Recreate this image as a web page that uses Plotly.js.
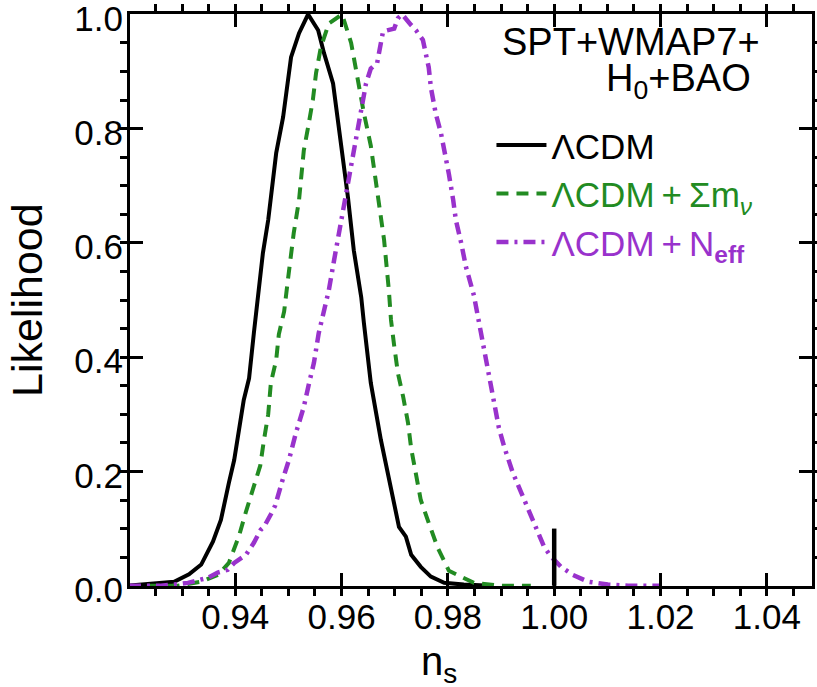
<!DOCTYPE html>
<html>
<head>
<meta charset="utf-8">
<script src="https://cdn.plot.ly/plotly-3.0.1.min.js"></script>
<style>
  html, body { margin: 0; padding: 0; background: #fff; }
  #chart { width: 817px; height: 687px; }
</style>
</head>
<body>
<div id="chart"></div>
<script>
// ---- Data ----
const nsLCDM = [0.9200,0.9247,0.9285,0.9313,0.9336,0.9358,0.9373,0.9388,0.9398,0.9416,
                0.9426,0.9435,0.9445,0.9452,0.9462,0.9477,0.9490,0.9505,0.9520,0.9537,
                0.9556,0.9567,0.9584,0.9590,0.9599,0.9612,0.9623,0.9637,0.9642,0.9655,
                0.9674,0.9693,0.9708,0.9721,0.9731,0.9749,0.9768,0.9793,0.9830,0.9881];
const likeLCDM = [0.000,0.003,0.007,0.020,0.037,0.077,0.115,0.180,0.220,0.325,
                  0.363,0.442,0.517,0.582,0.640,0.757,0.820,0.925,0.967,1.000,
                  0.972,0.932,0.879,0.837,0.762,0.680,0.587,0.505,0.460,0.355,
                  0.255,0.168,0.103,0.086,0.054,0.033,0.016,0.005,0.002,0.000];

const nsMnu = [0.9235,0.9292,0.9336,0.9368,0.9388,0.9407,0.9420,0.9435,0.9447,0.9454,
               0.9462,0.9467,0.9477,0.9482,0.9492,0.9499,0.9510,0.9520,0.9529,0.9537,
               0.9546,0.9552,0.9561,0.9576,0.9601,0.9618,0.9633,0.9642,0.9655,0.9661,
               0.9674,0.9680,0.9689,0.9693,0.9699,0.9706,0.9716,0.9725,0.9731,0.9740,
               0.9749,0.9764,0.9781,0.9802,0.9849,0.9900,0.9956];
const likeMnu = [0.000,0.000,0.007,0.019,0.040,0.087,0.129,0.175,0.210,0.255,
                 0.300,0.355,0.395,0.440,0.480,0.535,0.617,0.675,0.762,0.802,
                 0.850,0.897,0.942,0.984,1.000,0.950,0.872,0.827,0.770,0.730,
                 0.652,0.605,0.517,0.465,0.420,0.372,0.330,0.285,0.240,0.198,
                 0.150,0.110,0.066,0.026,0.005,0.000,0.000];

const nsNeff = [0.9200,0.9260,0.9285,0.9311,0.9349,0.9367,0.9386,0.9398,0.9420,0.9435,
                0.9448,0.9454,0.9467,0.9475,0.9488,0.9501,0.9514,0.9529,0.9539,0.9548,
                0.9557,0.9567,0.9576,0.9586,0.9593,0.9599,0.9605,0.9612,0.9618,0.9627,
                0.9633,0.9640,0.9646,0.9655,0.9667,0.9678,0.9699,0.9706,0.9714,0.9731,
                0.9740,0.9753,0.9764,0.9768,0.9777,0.9787,0.9793,0.9802,0.9810,0.9815,
                0.9825,0.9834,0.9849,0.9859,0.9866,0.9877,0.9887,0.9896,0.9906,0.9922,
                0.9938,0.9953,0.9966,0.9981,0.9994,1.0013,1.0035,1.0064,1.0101,1.0139,
                1.0201];
const likeNeff = [0.000,0.000,0.002,0.005,0.014,0.023,0.028,0.040,0.054,0.075,
                  0.098,0.103,0.125,0.140,0.182,0.220,0.267,0.313,0.355,0.390,
                  0.442,0.483,0.517,0.570,0.605,0.640,0.670,0.710,0.733,0.780,
                  0.810,0.845,0.879,0.905,0.915,0.970,0.975,0.993,1.000,0.981,
                  0.972,0.955,0.907,0.872,0.827,0.792,0.765,0.720,0.675,0.640,
                  0.600,0.558,0.508,0.460,0.425,0.375,0.322,0.276,0.243,0.198,
                  0.163,0.128,0.098,0.068,0.051,0.033,0.019,0.007,0.002,0.000,
                  0.000];

const hzMarkX = [1.00, 1.00];
const hzMarkY = [0.00, 0.10];

const xTickVals = [0.94, 0.96, 0.98, 1.00, 1.02, 1.04];
const xTickText = ['0.94', '0.96', '0.98', '1.00', '1.02', '1.04'];
const yTickVals = [0.0, 0.2, 0.4, 0.6, 0.8, 1.0];
const yTickText = ['0.0', '0.2', '0.4', '0.6', '0.8', '1.0'];

const nameLCDM = 'ΛCDM';
const nameMnu = 'ΛCDM\u2009+\u2009Σm<sub><i>ν</i></sub>';
const nameNeff = 'ΛCDM\u2009+\u2009N<sub><b>eff</b></sub>';
const dataLabel1 = 'SPT+WMAP7+';
const dataLabel2 = 'H<sub>0</sub>+BAO';
const xTitle = 'n<sub>s</sub>';
const yTitle = 'Likelihood';

// ---- Styles ----
const FONT = 'Liberation Sans, Arial, Helvetica, sans-serif';
const cBlack = '#000000';
const cGreen = '#228B22';
const cPurple = '#9932CC';

const traces = [
  { x: nsLCDM, y: likeLCDM, type: 'scatter', mode: 'lines', name: nameLCDM,
    line: { color: cBlack, width: 4 } },
  { x: nsMnu, y: likeMnu, type: 'scatter', mode: 'lines',
    name: '<span style="color:' + cGreen + '">' + nameMnu + '</span>',
    line: { color: cGreen, width: 4, dash: '12px,8px' } },
  { x: nsNeff, y: likeNeff, type: 'scatter', mode: 'lines',
    name: '<span style="color:' + cPurple + '">' + nameNeff + '</span>',
    line: { color: cPurple, width: 4.5, dash: '12px,6px,3px,6px' } },
  { x: hzMarkX, y: hzMarkY, type: 'scatter', mode: 'lines', showlegend: false,
    hoverinfo: 'skip', line: { color: cBlack, width: 4.5 } }
];

const axisCommon = {
  showline: true, linecolor: 'black', linewidth: 3, mirror: 'allticks',
  ticks: 'inside', ticklen: 13, tickwidth: 3, tickcolor: 'black',
  showgrid: false, zeroline: false, ticklabeloverflow: 'allow',
  tickfont: { family: FONT, size: 35, color: '#000' }
};

const layout = {
  width: 817, height: 687,
  margin: { l: 130, r: 5, t: 14, b: 101 },
  paper_bgcolor: '#ffffff', plot_bgcolor: 'rgba(0,0,0,0)',
  font: { family: FONT, color: '#000' },
  showlegend: true,
  xaxis: Object.assign({}, axisCommon, {
    range: [0.9202, 1.0485],
    tickmode: 'array', tickvals: xTickVals, ticktext: xTickText,
    ticklabelstandoff: -2,
    minor: { dtick: 0.005, tick0: 0.92, ticklen: 7, tickwidth: 2.5, tickcolor: 'black' }
  }),
  yaxis: Object.assign({}, axisCommon, {
    range: [-0.0005, 1.0005],
    tickmode: 'array', tickvals: yTickVals, ticktext: yTickText,
    ticklabelstandoff: -3, ticklabelshift: 4,
    minor: { dtick: 0.05, tick0: 0, ticklen: 7, tickwidth: 2.5, tickcolor: 'black' }
  }),
  legend: {
    x: 0.53, y: 0.822, xanchor: 'left', yanchor: 'top',
    bgcolor: 'rgba(0,0,0,0)', borderwidth: 0,
    font: { family: FONT, size: 35, color: '#000' },
    itemwidth: 50, tracegroupgap: 0
  },
  annotations: [
    { xref: 'paper', yref: 'paper', x: 0.927, y: 0.951, xanchor: 'right', yanchor: 'middle',
      text: dataLabel1, showarrow: false, font: { family: FONT, size: 38, color: '#000' } },
    { xref: 'paper', yref: 'paper', x: 0.913, y: 0.882, xanchor: 'right', yanchor: 'middle',
      text: dataLabel2, showarrow: false, font: { family: FONT, size: 38, color: '#000' } },
    { xref: 'paper', yref: 'paper', x: 0.453, y: -0.089, xanchor: 'center', yanchor: 'top',
      text: xTitle, showarrow: false, font: { family: FONT, size: 40, color: '#000' } },
    { xref: 'paper', yref: 'paper', x: -0.151, y: 0.5, xanchor: 'center', yanchor: 'middle',
      textangle: -90, text: yTitle, showarrow: false, font: { family: FONT, size: 43, color: '#000' } }
  ]
};

Plotly.newPlot('chart', traces, layout, { displayModeBar: false });
</script>
</body>
</html>
